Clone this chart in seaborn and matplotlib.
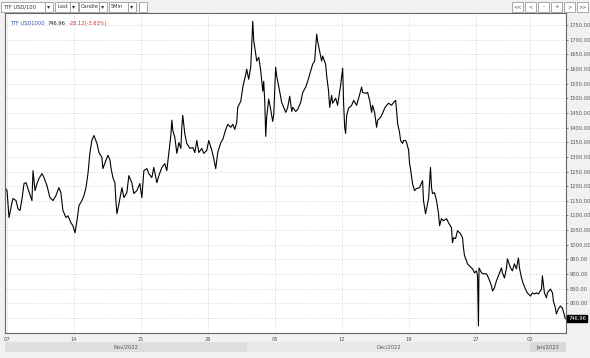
import numpy as np
import pandas as pd
import matplotlib
matplotlib.use("Agg")
import matplotlib.pyplot as plt
from matplotlib.patches import Rectangle
import seaborn as sns

# trading-session offset from Mon 07 Nov 2022 (1.0 = one trading day) and TTF price
session_t = [
    -0.15, 0.00, 0.15, 0.37, 0.45, 0.67, 0.82, 0.97, 1.12, 1.27, 1.42, 1.56, 1.86, 1.94,
    2.09, 2.24, 2.38, 2.61, 2.76, 2.98, 3.20, 3.43, 3.65, 3.87, 4.02, 4.17, 4.40, 4.55,
    4.77, 4.92, 5.07, 5.22, 5.37, 5.59, 5.74, 5.89, 6.04, 6.18, 6.33, 6.48, 6.71, 6.86,
    7.08, 7.15, 7.38, 7.53, 7.68, 7.75, 7.90, 8.05, 8.12, 8.20, 8.35, 8.57, 8.72, 8.94,
    9.09, 9.31, 9.46, 9.69, 9.91, 10.06, 10.21, 10.43, 10.58, 10.80, 10.95, 11.18, 11.33,
    11.55, 11.77, 11.92, 12.07, 12.22, 12.30, 12.37, 12.52, 12.67, 12.82, 12.97, 13.04,
    13.11, 13.26, 13.41, 13.64, 13.86, 14.01, 14.16, 14.31, 14.53, 14.68, 14.90, 15.05,
    15.28, 15.42, 15.57, 15.72, 15.95, 16.10, 16.32, 16.47, 16.69, 16.84, 16.99, 17.14,
    17.21, 17.44, 17.59, 17.81, 17.88, 18.03, 18.18, 18.26, 18.33, 18.41, 18.55, 18.63,
    18.78, 18.93, 19.08, 19.15, 19.23, 19.30, 19.37, 19.52, 19.67, 19.82, 19.90, 20.04,
    20.12, 20.27, 20.49, 20.64, 20.79, 20.94, 21.09, 21.24, 21.31, 21.54, 21.68, 21.91,
    22.06, 22.28, 22.43, 22.65, 22.80, 22.95, 23.10, 23.17, 23.32, 23.47, 23.55, 23.77,
    23.85, 23.99, 24.07, 24.22, 24.29, 24.52, 24.66, 24.89, 25.04, 25.11, 25.19, 25.26,
    25.34, 25.48, 25.71, 25.86, 26.08, 26.23, 26.45, 26.53, 26.75, 26.90, 27.05, 27.20,
    27.27, 27.42, 27.57, 27.65, 27.87, 28.02, 28.17, 28.32, 28.46, 28.69, 28.84, 28.99,
    29.06, 29.14, 29.28, 29.36, 29.51, 29.58, 29.73, 29.81, 29.96, 30.03, 30.10, 30.25,
    30.40, 30.55, 30.77, 31.00, 31.07, 31.22, 31.37, 31.45, 31.59, 31.67, 31.74, 31.89,
    32.04, 32.19, 32.27, 32.41, 32.56, 32.79, 32.94, 33.16, 33.23, 33.31, 33.46, 33.61,
    33.83, 33.98, 34.05, 34.13, 34.28, 34.35, 34.50, 34.65, 34.73, 34.87, 35.02, 35.10,
    35.17, 35.21, 35.40, 35.54, 35.77, 35.92, 36.14, 36.22, 36.36, 36.51, 36.66, 36.89,
    36.96, 37.11, 37.26, 37.33, 37.56, 37.70, 37.85, 38.00, 38.15, 38.23, 38.38, 38.52,
    38.67, 38.82, 39.05, 39.20, 39.34, 39.49, 39.64, 39.87, 39.94, 40.09, 40.24, 40.31,
    40.54, 40.69, 40.76, 40.91, 40.98, 41.13, 41.28, 41.43, 41.58, 41.65,
]
price = [
    1195, 1185, 1093, 1144, 1158, 1151, 1123, 1117, 1158, 1209, 1212, 1192, 1151, 1253,
    1185, 1209, 1226, 1243, 1229, 1202, 1161, 1151, 1168, 1195, 1178, 1117, 1093, 1099,
    1075, 1065, 1041, 1082, 1134, 1151, 1168, 1195, 1243, 1312, 1356, 1373, 1346, 1315,
    1298, 1260, 1288, 1305, 1290, 1264, 1229, 1212, 1151, 1106, 1140, 1195, 1161, 1178,
    1236, 1212, 1175, 1185, 1209, 1161, 1253, 1260, 1243, 1229, 1264, 1212, 1236,
    1264, 1277, 1253, 1312, 1373, 1425, 1390, 1366, 1312, 1349, 1329, 1401,
    1442, 1380, 1346, 1329, 1332, 1315, 1356, 1315, 1329, 1312, 1322, 1356,
    1322, 1295, 1260, 1315, 1349, 1360, 1394, 1411, 1401, 1411, 1394, 1418,
    1469, 1490, 1538, 1582, 1599, 1565, 1606, 1685, 1763, 1695, 1651, 1627,
    1640, 1593, 1524, 1558, 1486, 1370, 1435, 1497, 1462, 1421, 1445, 1606,
    1575, 1541, 1486, 1469, 1452, 1469, 1507, 1455, 1469, 1455, 1462, 1486,
    1520, 1538, 1558, 1593, 1616, 1627, 1719, 1695, 1661, 1627, 1644, 1616,
    1575, 1524, 1469, 1510, 1483, 1500, 1476, 1545, 1603, 1483, 1401, 1380,
    1442, 1466, 1476, 1493, 1476, 1500, 1538, 1520, 1517, 1520, 1493, 1452,
    1476, 1452, 1401, 1425, 1435, 1449, 1466, 1476, 1483, 1476, 1486, 1493,
    1459, 1414, 1384, 1356, 1346, 1356, 1356, 1349, 1322, 1277, 1260, 1209,
    1185, 1192, 1195, 1219, 1151, 1106, 1140, 1158, 1264, 1195, 1175, 1178,
    1151, 1106, 1065, 1089, 1082, 1089, 1075, 1058, 1007, 1024, 1021, 1048,
    1038, 1024, 990, 963, 945, 935, 928, 921, 918, 904, 911, 894,
    723, 921, 904, 901, 901, 887, 860, 842, 853, 877, 894, 921,
    904, 887, 921, 952, 921, 911, 935, 918, 955, 921, 887, 866,
    849, 836, 825, 836, 832, 836, 832, 849, 894, 836, 819, 836,
    849, 836, 808, 784, 764, 781, 791, 784, 760, 747,
]

week_ticks = [0, 5, 10, 15, 20, 25, 30, 35, 39]
week_labels = ["07", "14", "21", "28", "05", "12", "19", "27", "02"]
months = ["Nov/2022", "Dec/2022", "Jan/2023"]
month_edges = [-0.15, 17.9, 39.0, 41.7]
price_ticks = list(range(750, 1751, 50))
last_price = 746.96

df = pd.DataFrame({"t": session_t, "price": price})

sns.set_style("white")
plt.rcParams["font.family"] = ["DejaVu Sans"]
FS = 3.7

fig = plt.figure(figsize=(5.9, 3.58), dpi=100, facecolor="#f1f1f1")
W, H = 590, 358
ax = fig.add_axes([5 / W, 1 - 333 / H, 561 / W, 320 / H])
ax.set_facecolor("white")

sns.lineplot(data=df, x="t", y="price", sort=False, estimator=None,
             color="black", linewidth=0.8, ax=ax)

ax.set_xlim(-0.15, 41.7)
ax.set_ylim(699, 1791)
ax.set_xlabel("")
ax.set_ylabel("")
ax.yaxis.tick_right()
ax.set_yticks(price_ticks)
ax.set_yticklabels([f"{v:.2f}" for v in price_ticks], fontsize=FS, color="#555555")
ax.set_xticks(week_ticks)
ax.set_xticklabels(week_labels, fontsize=FS, color="#555555")
ax.tick_params(axis="y", length=1.5, width=0.5, pad=0.8, color="#555555")
ax.tick_params(axis="x", length=1.5, width=0.5, pad=1.5, color="#555555")
ax.grid(True, color="#d2d2d2", linestyle=(0, (2, 2)), linewidth=0.5)
for s in ax.spines.values():
    s.set_color("#666666")
    s.set_linewidth(0.8)

ax.text(0.009, 0.975, "TTF USD1000", transform=ax.transAxes, fontsize=FS,
        color="#2f4fb5", va="top")
ax.text(0.075, 0.975, "746.96", transform=ax.transAxes, fontsize=FS,
        color="#222222", va="top")
ax.text(0.114, 0.975, "-28.12(-3.63%)", transform=ax.transAxes, fontsize=FS,
        color="#d03030", va="top")

# last price marker on the right scale
ax.annotate(f"{last_price:.2f}", xy=(1.0, last_price), xycoords=("axes fraction", "data"),
            xytext=(1.5, 0), textcoords="offset points", fontsize=FS, color="white",
            va="center", ha="left",
            bbox=dict(boxstyle="square,pad=0.2", fc="black", ec="black"))

# month band under the axis
band = fig.add_axes([5 / W, 1 - 352 / H, 561 / W, 10 / H])
band.set_xlim(ax.get_xlim())
band.set_ylim(0, 1)
band.axis("off")
shades = ["#dedede", "#e8e8e8", "#dadada"]
for i, m in enumerate(months):
    x0, x1 = month_edges[i], month_edges[i + 1]
    band.add_patch(Rectangle((x0, 0), x1 - x0, 1, fc=shades[i], ec="none"))
    band.text((x0 + x1) / 2, 0.5, m, ha="center", va="center", fontsize=FS, color="#555555")

# toolbar above the chart
def box(x, w, label, y=2, h=10):
    fig.patches.append(Rectangle((x / W, 1 - (y + h) / H), w / W, h / H,
                                 transform=fig.transFigure, fc="white", ec="#9a9a9a", lw=0.6))
    if label:
        fig.text((x + 2) / W, 1 - (y + h / 2) / H, label, fontsize=FS,
                 va="center", ha="left", color="#333333")

def arrow(x, y=2, h=10):
    fig.patches.append(Rectangle((x / W, 1 - (y + h) / H), 8 / W, h / H,
                                 transform=fig.transFigure, fc="white", ec="#9a9a9a", lw=0.6))
    fig.text((x + 4) / W, 1 - (y + h / 2) / H, "▾", fontsize=4.5,
             va="center", ha="center", color="#333333")

box(1, 44, "TTF USD/100")
arrow(45)
box(55, 15, "Last")
arrow(70)
box(79, 20, "Candle")
arrow(99)
box(109, 19, "5Min")
arrow(128)
box(139, 8, "")

for i, lab in enumerate(["<<", "<", "-", "+", ">", ">>"]):
    x = 512 + i * 13
    fig.patches.append(Rectangle((x / W, 1 - 12 / H), 11 / W, 10 / H,
                                 transform=fig.transFigure, fc="white", ec="#9a9a9a", lw=0.6))
    fig.text((x + 5.5) / W, 1 - 7 / H, lab, fontsize=FS, va="center", ha="center",
             color="#555555")

fig.savefig("out.png", dpi=100, facecolor=fig.get_facecolor())
